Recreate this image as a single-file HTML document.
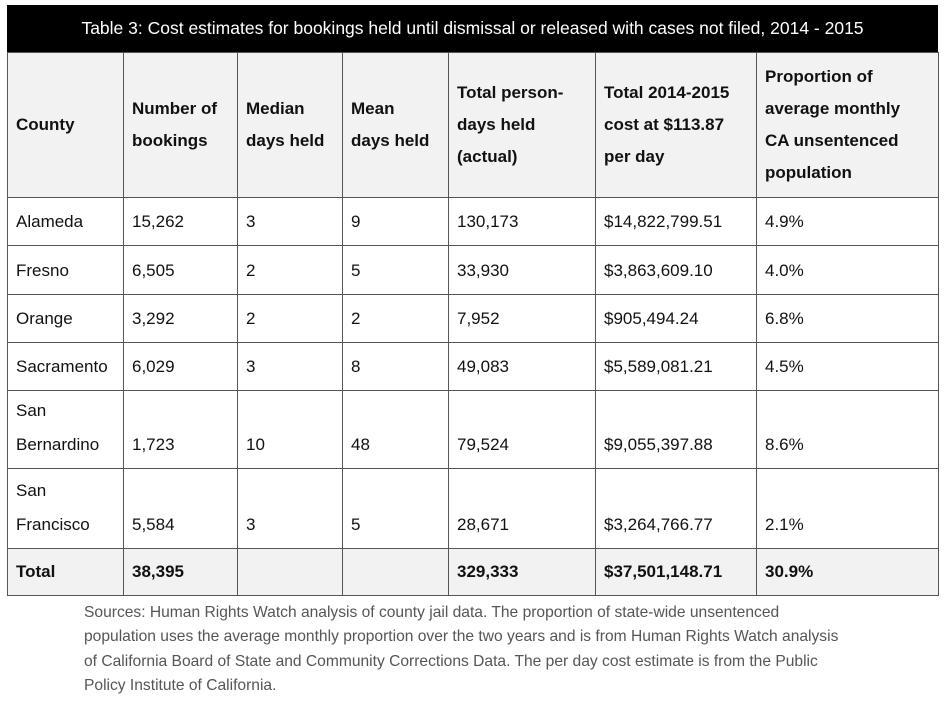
<!DOCTYPE html>
<html><head><style>
body{margin:0;width:946px;height:708px;background:#fff;font-family:"Liberation Sans",sans-serif;position:relative;overflow:hidden}
.title{position:absolute;left:7px;top:5px;width:931px;height:47px;background:#000;color:#fff;font-size:17.5px;line-height:47px;text-align:center;white-space:nowrap}
table{position:absolute;left:7px;top:52px;border-collapse:collapse;font-size:17px;color:#111}
td{border:1.5px solid #555;padding:0 0 0 8px;box-sizing:border-box}
thead td{background:#f2f2f2;font-weight:bold;vertical-align:middle;line-height:32px;height:145px}
tbody td{vertical-align:bottom;padding-bottom:6px;line-height:34px}
tr.t td{background:#f2f2f2;font-weight:bold;vertical-align:middle;padding-bottom:0}
table{border:1.5px solid #666}
.foot{position:absolute;left:84px;top:601px;font-size:15.6px;line-height:24.3px;color:#555;white-space:nowrap}
</style></head><body>
<div class="title">Table 3: Cost estimates for bookings held until dismissal or released with cases not filed, 2014 - 2015</div>
<table>
<colgroup><col style="width:116px"><col style="width:114px"><col style="width:105px"><col style="width:106px"><col style="width:147px"><col style="width:161px"><col style="width:182px"></colgroup>
<thead><tr><td>County</td><td>Number of<br>bookings</td><td>Median<br>days held</td><td>Mean<br>days held</td><td>Total person-<br>days held<br>(actual)</td><td>Total 2014-2015<br>cost at $113.87<br>per day</td><td>Proportion of<br>average monthly<br>CA unsentenced<br>population</td></tr></thead>
<tbody>
<tr style="height:48px"><td>Alameda</td><td>15,262</td><td>3</td><td>9</td><td>130,173</td><td>$14,822,799.51</td><td>4.9%</td></tr>
<tr style="height:49px"><td>Fresno</td><td>6,505</td><td>2</td><td>5</td><td>33,930</td><td>$3,863,609.10</td><td>4.0%</td></tr>
<tr style="height:48px"><td>Orange</td><td>3,292</td><td>2</td><td>2</td><td>7,952</td><td>$905,494.24</td><td>6.8%</td></tr>
<tr style="height:48px"><td>Sacramento</td><td>6,029</td><td>3</td><td>8</td><td>49,083</td><td>$5,589,081.21</td><td>4.5%</td></tr>
<tr style="height:78px"><td>San<br>Bernardino</td><td>1,723</td><td>10</td><td>48</td><td>79,524</td><td>$9,055,397.88</td><td>8.6%</td></tr>
<tr style="height:80px"><td>San<br>Francisco</td><td>5,584</td><td>3</td><td>5</td><td>28,671</td><td>$3,264,766.77</td><td>2.1%</td></tr>
<tr class="t" style="height:47px"><td>Total</td><td>38,395</td><td></td><td></td><td>329,333</td><td>$37,501,148.71</td><td>30.9%</td></tr>
</tbody></table>
<div class="foot">Sources: Human Rights Watch analysis of county jail data. The proportion of state-wide unsentenced<br>population uses the average monthly proportion over the two years and is from Human Rights Watch analysis<br>of California Board of State and Community Corrections Data. The per day cost estimate is from the Public<br>Policy Institute of California.</div>
</body></html>
